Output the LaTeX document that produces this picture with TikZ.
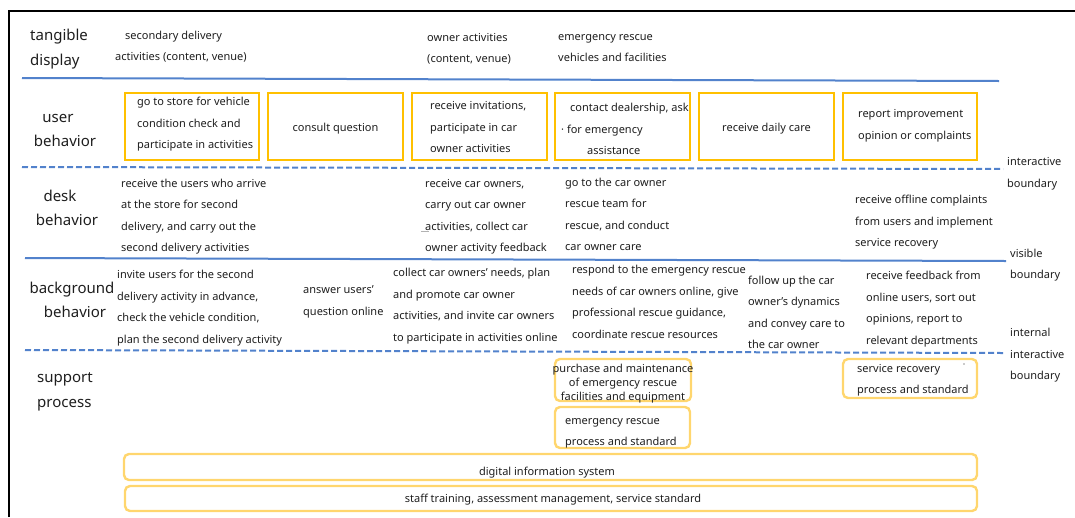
\documentclass[tikz,border=0pt]{standalone}
\usepackage{fontspec}
\setmainfont{Noto Sans}
\usetikzlibrary{fit}
\definecolor{lineblue}{RGB}{82,130,204}
\definecolor{boxorange}{RGB}{255,192,0}
\definecolor{softorange}{RGB}{255,214,110}
\definecolor{ink}{RGB}{30,30,30}

\tikzset{
  txt/.style={font=\fontsize{11}{13}\selectfont, text=ink, inner sep=0pt,
    text height=8pt, text depth=2.5pt, anchor=west, yshift=-1.8pt},
  lbl/.style={font=\fontsize{15}{18}\selectfont, text=ink, inner sep=0pt,
    text height=11pt, text depth=3.5pt, yshift=-1.8pt},
  userbox/.style={draw=boxorange, line width=2pt, inner sep=0pt},
  supbox/.style={draw=softorange, line width=2.4pt, rounded corners=5pt, inner sep=0pt},
  solidsep/.style={draw=lineblue, line width=2pt},
  dashsep/.style={draw=lineblue, line width=2pt, dash pattern=on 6pt off 3pt},
  frame/.style={draw=black, line width=2pt},
}

% one text line per node: [style]{name}{x}{first y}{line step}{{line},{line},...}
\newcommand\txtlines[6][]{%
  \foreach \ln [count=\k] in {#6}{%
    \node[txt,#1] (#2-\k) at (#3,{#4+(\k-1)*#5}) {\ln};}}

\begin{document}
\begin{tikzpicture}[x=1pt,y=-1pt]
\useasboundingbox (0,0) rectangle (1075,517);

% outer frame
\draw[frame] (9,517) -- (9,11) -- (1075,11);

% lane boundaries
\draw[solidsep] (22,78) -- (999,81);
\draw[dashsep] (22,167) -- (1003,169);
\draw[solidsep] (25,258) -- (1006,261);
\draw[dashsep] (25,350) -- (1003,353);

% lane names
\node[lbl,anchor=west] (tg1) at (30,35) {tangible};
\node[lbl,anchor=west] (tg2) at (30,60) {display};
\node[lbl] (ub1) at (58,117) {user};
\node[lbl] (ub2) at (65,141) {behavior};
\node[lbl] (db1) at (60,196) {desk};
\node[lbl] (db2) at (67,220) {behavior};
\node[lbl] (bb1) at (72,288) {background};
\node[lbl] (bb2) at (75,312) {behavior};
\node[lbl,anchor=west] (sp1) at (37,377) {support};
\node[lbl,anchor=west] (sp2) at (37,402) {process};

% boundary names
\txtlines{ib}{1007}{161}{22}{{interactive},{boundary}}
\txtlines{vb}{1010}{253}{21}{{visible},{boundary}}
\txtlines{nb}{1010}{332}{21.5}{{internal},{interactive},{boundary}}

% tangible display
\txtlines{td1}{125}{35}{21}{{secondary delivery}}
\txtlines{td2}{115}{56}{21}{{activities (content, venue)}}
\txtlines{td3}{427}{37}{21}{{owner activities},{(content, venue)}}
\txtlines{td4}{558}{36}{21}{{emergency rescue},{vehicles and facilities}}

% user behavior
\node[userbox, fit={(125,93) (259,160)}] (u1) {};
\node[userbox, fit={(268,93) (403,160)}] (u2) {};
\node[userbox, fit={(412,93) (547,160)}] (u3) {};
\node[userbox, fit={(555,93) (690,160)}] (u4) {};
\node[userbox, fit={(699,93) (834,160)}] (u5) {};
\node[userbox, fit={(843,93) (977,160)}] (u6) {};
\txtlines{ut1}{137}{101}{21.5}{{go to store for vehicle},{condition check and},{participate in activities}}
\node[txt,anchor=center] (ut2) at (u2.center) {consult question};
\txtlines{ut3}{430}{105}{21.5}{{receive invitations,},{participate in car},{owner activities}}
\txtlines{ut4a}{570}{107}{21}{{contact dealership, ask}}
\txtlines{ut4b}{561}{129}{21}{{· for emergency}}
\txtlines{ut4c}{587}{150}{21}{{assistance}}
\node[txt,anchor=center] (ut5) at (u5.center) {receive daily care};
\txtlines{ut6}{858}{113}{22}{{report improvement},{opinion or complaints}}

% desk behavior
\txtlines{dt1}{121}{183}{21.3}{{receive the users who arrive},{at the store for second},{delivery, and carry out the},{second delivery activities}}
\txtlines{dt3}{425}{183}{21.3}{{receive car owners,},{carry out car owner},{activities, collect car},{owner activity feedback}}
\draw[gray!60, line width=0.8pt] (421,231) -- (429,231);
\txtlines{dt4}{565}{182}{21.3}{{go to the car owner},{rescue team for},{rescue, and conduct},{car owner care}}
\txtlines{dt6}{855}{199}{21.5}{{receive offline complaints},{from users and implement},{service recovery}}

% background behavior
\txtlines{bt1}{117}{274}{21.7}{{invite users for the second},{delivery activity in advance,},{check the vehicle condition,},{plan the second delivery activity}}
\txtlines{bt2}{303}{289}{22}{{answer users'},{question online}}
\txtlines{bt3}{393}{272}{21.7}{{collect car owners' needs, plan},{and promote car owner},{activities, and invite car owners},{to participate in activities online}}
\txtlines{bt4}{572}{269}{21.7}{{respond to the emergency rescue},{needs of car owners online, give},{professional rescue guidance,},{coordinate rescue resources}}
\txtlines{bt5}{748}{280}{21.3}{{follow up the car},{owner's dynamics},{and convey care to},{the car owner}}
\txtlines{bt6}{866}{275}{21.7}{{receive feedback from},{online users, sort out},{opinions, report to},{relevant departments}}

% support process
\node[supbox, fit={(555,359) (691,401)}] (s1) {};
\node[supbox, fit={(555,407) (690,448)}] (s2) {};
\node[supbox, fit={(843,359) (977,398)}] (s3) {};
\node[supbox, fit={(124,454) (977,480)}] (s4) {};
\node[supbox, fit={(125,486) (977,511)}] (s5) {};
\txtlines[anchor=center]{st1}{623}{368}{14}{{purchase and maintenance},{of emergency rescue},{facilities and equipment}}
\txtlines{st2}{565}{420}{21}{{emergency rescue},{process and standard}}
\txtlines{st3}{857}{368}{21}{{service recovery},{process and standard}}
\fill[ink] (964,364) circle (0.6pt);
\node[txt,anchor=center] (st4) at (547,471) {digital information system};
\node[txt,anchor=center] (st5) at (553,498) {staff training, assessment management, service standard};
\end{tikzpicture}
\end{document}
